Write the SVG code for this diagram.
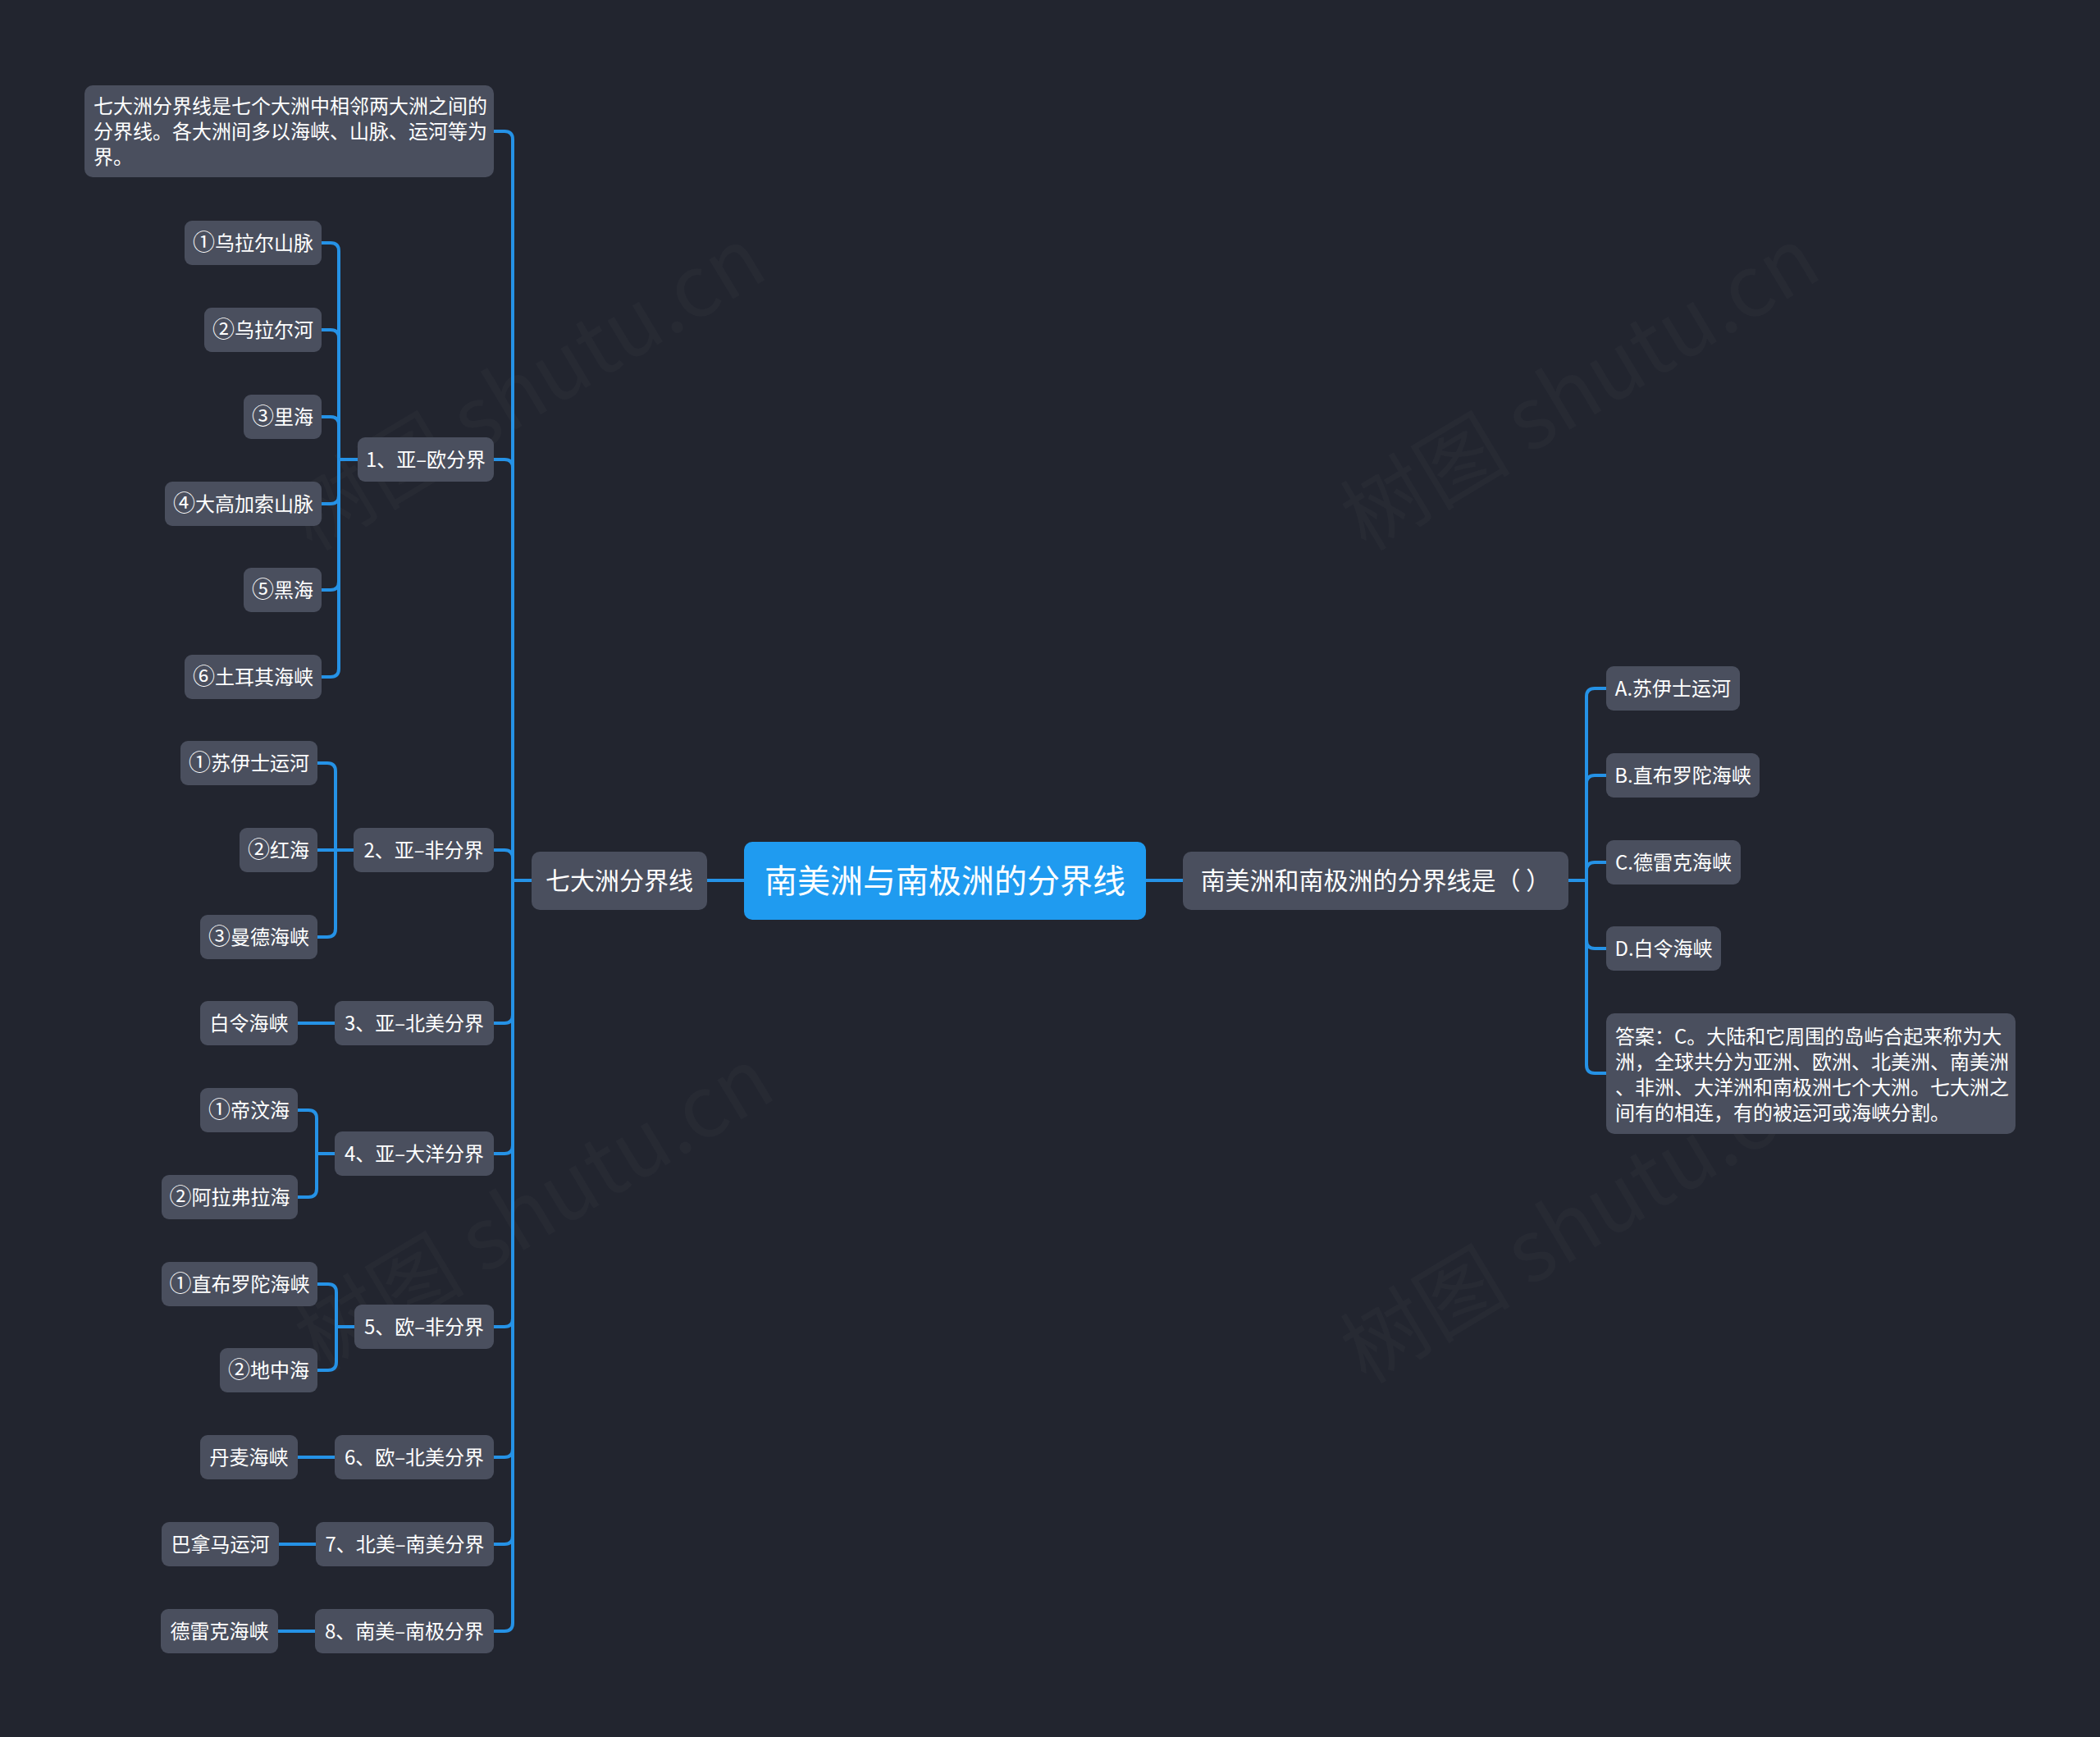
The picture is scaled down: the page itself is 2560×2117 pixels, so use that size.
<svg xmlns="http://www.w3.org/2000/svg" width="2560" height="2117" viewBox="0 0 2560 2117">
<style>
.bg{fill:#22252f}
.n{fill:#4a4f5e}
.root{fill:#1f9bf0}
.t{font-family:"Noto Sans CJK SC","Noto Sans",sans-serif;fill:#ffffff;font-size:24px}
.tm{text-anchor:middle}
.t30{font-size:30px}
.t40{font-size:40px}
.cd{font-size:27px}
.c{fill:none;stroke:#2592e6;stroke-width:4;stroke-linecap:round;stroke-linejoin:round}
.wm{font-family:"Noto Sans CJK SC","Noto Sans",sans-serif;font-size:104px;fill:#ffffff;fill-opacity:0.025;text-anchor:middle}
</style>
<rect class="bg" x="0" y="0" width="2560" height="2117"/>
<g id="watermarks">
<text class="wm" transform="translate(660,505) rotate(-31)">树图 shutu.cn</text>
<text class="wm" transform="translate(1945,505) rotate(-31)">树图 shutu.cn</text>
<text class="wm" transform="translate(670,1505) rotate(-31)">树图 shutu.cn</text>
<text class="wm" transform="translate(1945,1520) rotate(-31)">树图 shutu.cn</text>
</g>
<g id="connectors">
<path class="c" d="M907 1073 H862"/>
<path class="c" d="M1397 1073 H1442"/>
<path class="c" d="M648 1073 H625"/>
<path class="c" d="M602 160 H615 Q625 160 625 170 V1073"/>
<path class="c" d="M602 560 H615 Q625 560 625 570 V1073"/>
<path class="c" d="M602 1036 H615 Q625 1036 625 1046 V1073"/>
<path class="c" d="M602 1247 H615 Q625 1247 625 1237 V1073"/>
<path class="c" d="M602 1406 H615 Q625 1406 625 1396 V1073"/>
<path class="c" d="M602 1617 H615 Q625 1617 625 1607 V1073"/>
<path class="c" d="M602 1776 H615 Q625 1776 625 1766 V1073"/>
<path class="c" d="M602 1882 H615 Q625 1882 625 1872 V1073"/>
<path class="c" d="M602 1988 H615 Q625 1988 625 1978 V1073"/>
<path class="c" d="M436 560 H413"/>
<path class="c" d="M392 296 H403 Q413 296 413 306 V560"/>
<path class="c" d="M392 402 H403 Q413 402 413 412 V560"/>
<path class="c" d="M392 508 H403 Q413 508 413 518 V560"/>
<path class="c" d="M392 614 H403 Q413 614 413 604 V560"/>
<path class="c" d="M392 719 H403 Q413 719 413 709 V560"/>
<path class="c" d="M392 825 H403 Q413 825 413 815 V560"/>
<path class="c" d="M431 1036 H387"/>
<path class="c" d="M387 930 H399 Q409 930 409 940 V1036"/>
<path class="c" d="M387 1142 H399 Q409 1142 409 1132 V1036"/>
<path class="c" d="M363 1247 H408"/>
<path class="c" d="M408 1406 H386"/>
<path class="c" d="M363 1353 H376 Q386 1353 386 1363 V1406"/>
<path class="c" d="M363 1459 H376 Q386 1459 386 1449 V1406"/>
<path class="c" d="M432 1617 H410"/>
<path class="c" d="M387 1565 H400 Q410 1565 410 1575 V1617"/>
<path class="c" d="M387 1670 H400 Q410 1670 410 1660 V1617"/>
<path class="c" d="M363 1776 H408"/>
<path class="c" d="M340 1882 H385"/>
<path class="c" d="M339 1988 H384"/>
<path class="c" d="M1912 1073 H1934"/>
<path class="c" d="M1958 839 H1944 Q1934 839 1934 849 V1073"/>
<path class="c" d="M1958 945 H1944 Q1934 945 1934 955 V1073"/>
<path class="c" d="M1958 1051 H1944 Q1934 1051 1934 1061 V1073"/>
<path class="c" d="M1958 1156 H1944 Q1934 1156 1934 1146 V1073"/>
<path class="c" d="M1958 1308 H1944 Q1934 1308 1934 1298 V1073"/>
</g>
<g id="root">
<rect class="root" x="907" y="1026" width="490" height="95" rx="10"/>
<text class="t t40 tm" x="1152" y="1088">南美洲与南极洲的分界线</text>
</g>
<g id="n-qizhou">
<rect class="n" x="648" y="1038" width="214" height="71" rx="10"/>
<text class="t t30 tm" x="755" y="1084">七大洲分界线</text>
</g>
<g id="n-question">
<rect class="n" x="1442" y="1038" width="470" height="71" rx="10"/>
<text class="t t30 tm" x="1677" y="1084">南美洲和南极洲的分界线是（&#160;）</text>
</g>
<g id="n-desc">
<rect class="n" x="103" y="104" width="499" height="112" rx="10"/>
<text class="t" x="114" y="138">七大洲分界线是七个大洲中相邻两大洲之间的</text>
<text class="t" x="114" y="169">分界线。各大洲间多以海峡、山脉、运河等为</text>
<text class="t" x="114" y="200">界。</text>
</g>
<g id="n-1">
<rect class="n" x="436" y="533" width="166" height="54" rx="9"/>
<text class="t tm" x="519" y="569">1、亚–欧分界</text>
</g>
<g id="n-1-1"><rect class="n" x="225" y="269" width="167" height="54" rx="9"/><text class="t tm" x="308.5" y="305"><tspan class="cd">①</tspan>乌拉尔山脉</text></g>
<g id="n-1-2"><rect class="n" x="249" y="375" width="143" height="54" rx="9"/><text class="t tm" x="320.5" y="411"><tspan class="cd">②</tspan>乌拉尔河</text></g>
<g id="n-1-3"><rect class="n" x="297" y="481" width="95" height="54" rx="9"/><text class="t tm" x="344.5" y="517"><tspan class="cd">③</tspan>里海</text></g>
<g id="n-1-4"><rect class="n" x="201" y="587" width="191" height="54" rx="9"/><text class="t tm" x="296.5" y="623"><tspan class="cd">④</tspan>大高加索山脉</text></g>
<g id="n-1-5"><rect class="n" x="297" y="692" width="95" height="54" rx="9"/><text class="t tm" x="344.5" y="728"><tspan class="cd">⑤</tspan>黑海</text></g>
<g id="n-1-6"><rect class="n" x="225" y="798" width="167" height="54" rx="9"/><text class="t tm" x="308.5" y="834"><tspan class="cd">⑥</tspan>土耳其海峡</text></g>
<g id="n-2">
<rect class="n" x="431" y="1009" width="171" height="54" rx="9"/>
<text class="t tm" x="516.5" y="1045">2、亚–非分界</text>
</g>
<g id="n-2-1"><rect class="n" x="220" y="903" width="167" height="54" rx="9"/><text class="t tm" x="303.5" y="939"><tspan class="cd">①</tspan>苏伊士运河</text></g>
<g id="n-2-2"><rect class="n" x="292" y="1009" width="95" height="54" rx="9"/><text class="t tm" x="339.5" y="1045"><tspan class="cd">②</tspan>红海</text></g>
<g id="n-2-3"><rect class="n" x="244" y="1115" width="143" height="54" rx="9"/><text class="t tm" x="315.5" y="1151"><tspan class="cd">③</tspan>曼德海峡</text></g>
<g id="n-3">
<rect class="n" x="408" y="1220" width="194" height="54" rx="9"/>
<text class="t tm" x="505" y="1256">3、亚–北美分界</text>
</g>
<g id="n-3-1"><rect class="n" x="244" y="1220" width="119" height="54" rx="9"/><text class="t tm" x="303.5" y="1256">白令海峡</text></g>
<g id="n-4">
<rect class="n" x="408" y="1379" width="194" height="54" rx="9"/>
<text class="t tm" x="505" y="1415">4、亚–大洋分界</text>
</g>
<g id="n-4-1"><rect class="n" x="244" y="1326" width="119" height="54" rx="9"/><text class="t tm" x="303.5" y="1362"><tspan class="cd">①</tspan>帝汶海</text></g>
<g id="n-4-2"><rect class="n" x="197" y="1432" width="166" height="54" rx="9"/><text class="t tm" x="280" y="1468"><tspan class="cd">②</tspan>阿拉弗拉海</text></g>
<g id="n-5">
<rect class="n" x="432" y="1590" width="170" height="54" rx="9"/>
<text class="t tm" x="517" y="1626">5、欧–非分界</text>
</g>
<g id="n-5-1"><rect class="n" x="197" y="1538" width="190" height="54" rx="9"/><text class="t tm" x="292" y="1574"><tspan class="cd">①</tspan>直布罗陀海峡</text></g>
<g id="n-5-2"><rect class="n" x="268" y="1643" width="119" height="54" rx="9"/><text class="t tm" x="327.5" y="1679"><tspan class="cd">②</tspan>地中海</text></g>
<g id="n-6">
<rect class="n" x="408" y="1749" width="194" height="54" rx="9"/>
<text class="t tm" x="505" y="1785">6、欧–北美分界</text>
</g>
<g id="n-6-1"><rect class="n" x="244" y="1749" width="119" height="54" rx="9"/><text class="t tm" x="303.5" y="1785">丹麦海峡</text></g>
<g id="n-7">
<rect class="n" x="385" y="1855" width="217" height="54" rx="9"/>
<text class="t tm" x="493.5" y="1891">7、北美–南美分界</text>
</g>
<g id="n-7-1"><rect class="n" x="197" y="1855" width="143" height="54" rx="9"/><text class="t tm" x="268.5" y="1891">巴拿马运河</text></g>
<g id="n-8">
<rect class="n" x="384" y="1961" width="218" height="54" rx="9"/>
<text class="t tm" x="493" y="1997">8、南美–南极分界</text>
</g>
<g id="n-8-1"><rect class="n" x="196" y="1961" width="143" height="54" rx="9"/><text class="t tm" x="267.5" y="1997">德雷克海峡</text></g>
<g id="n-a"><rect class="n" x="1958" y="812" width="163" height="54" rx="9"/><text class="t tm" x="2039.5" y="848">A.苏伊士运河</text></g>
<g id="n-b"><rect class="n" x="1958" y="918" width="187" height="54" rx="9"/><text class="t tm" x="2051.5" y="954">B.直布罗陀海峡</text></g>
<g id="n-c"><rect class="n" x="1958" y="1024" width="164" height="54" rx="9"/><text class="t tm" x="2040" y="1060">C.德雷克海峡</text></g>
<g id="n-d"><rect class="n" x="1958" y="1129" width="140" height="54" rx="9"/><text class="t tm" x="2028" y="1165">D.白令海峡</text></g>
<g id="n-answer">
<rect class="n" x="1958" y="1235" width="499" height="147" rx="10"/>
<text class="t" x="1969" y="1272">答案：C。大陆和它周围的岛屿合起来称为大</text>
<text class="t" x="1969" y="1303">洲，全球共分为亚洲、欧洲、北美洲、南美洲</text>
<text class="t" x="1969" y="1334">、非洲、大洋洲和南极洲七个大洲。七大洲之</text>
<text class="t" x="1969" y="1365">间有的相连，有的被运河或海峡分割。</text>
</g>
</svg>
